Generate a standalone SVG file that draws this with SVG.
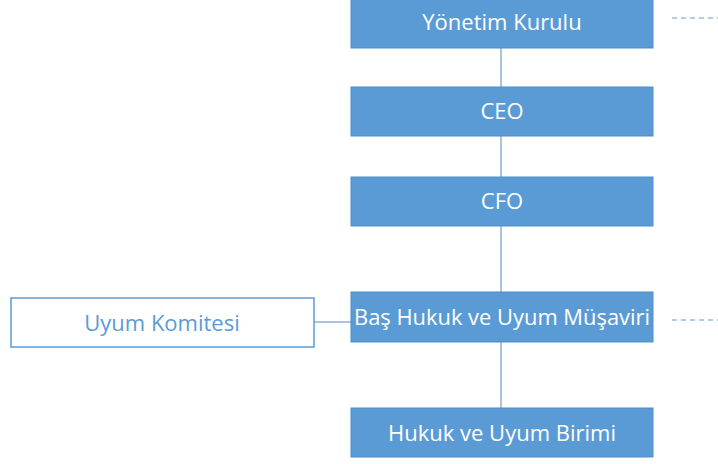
<svg xmlns="http://www.w3.org/2000/svg" width="718" height="464" viewBox="0 0 718 464">
<style>
.box{fill:#5B9BD5;stroke:#4F8FCB;stroke-width:1}
.wbox{fill:#FFFFFF;stroke:#5B9BD5;stroke-width:1.5}
.t{font-family:"Open Sans","Liberation Sans",sans-serif;font-size:22px;fill:#FFFFFF;text-anchor:middle}
.tb{font-family:"Open Sans","Liberation Sans",sans-serif;font-size:22px;fill:#5B9BD5;text-anchor:middle}
.ln{stroke:#8FB0D3;stroke-width:1.5;fill:none}
.dash{stroke:#5B9BD5;stroke-width:1.2;stroke-dasharray:5 4;fill:none}
</style>
<g id="connectors">
<line class="ln" x1="501" y1="48" x2="501" y2="87"/>
<line class="ln" x1="501" y1="136" x2="501" y2="177"/>
<line class="ln" x1="501" y1="226" x2="501" y2="292"/>
<line class="ln" x1="501" y1="342" x2="501" y2="408"/>
<line class="ln" x1="314" y1="322" x2="351" y2="322"/>
<line class="dash" x1="672" y1="18" x2="718" y2="18"/>
<line class="dash" x1="672" y1="320" x2="718" y2="320"/>
</g>
<g id="yonetim">
<rect class="box" x="351" y="-2" width="302" height="50"/>
<text class="t" x="502" y="30">Yönetim Kurulu</text>
</g>
<g id="ceo">
<rect class="box" x="351" y="87" width="302" height="49"/>
<text class="t" x="502" y="119">CEO</text>
</g>
<g id="cfo">
<rect class="box" x="351" y="177" width="302" height="49"/>
<text class="t" x="502" y="209">CFO</text>
</g>
<g id="bas">
<rect class="box" x="351" y="292" width="302" height="50"/>
<text class="t" x="502" y="325" textLength="296" lengthAdjust="spacingAndGlyphs">Baş Hukuk ve Uyum Müşaviri</text>
</g>
<g id="uyum">
<rect class="wbox" x="11" y="298" width="303" height="49"/>
<text class="tb" x="162" y="331">Uyum Komitesi</text>
</g>
<g id="birim">
<rect class="box" x="351" y="408" width="302" height="49"/>
<text class="t" x="502" y="441">Hukuk ve Uyum Birimi</text>
</g>
</svg>
